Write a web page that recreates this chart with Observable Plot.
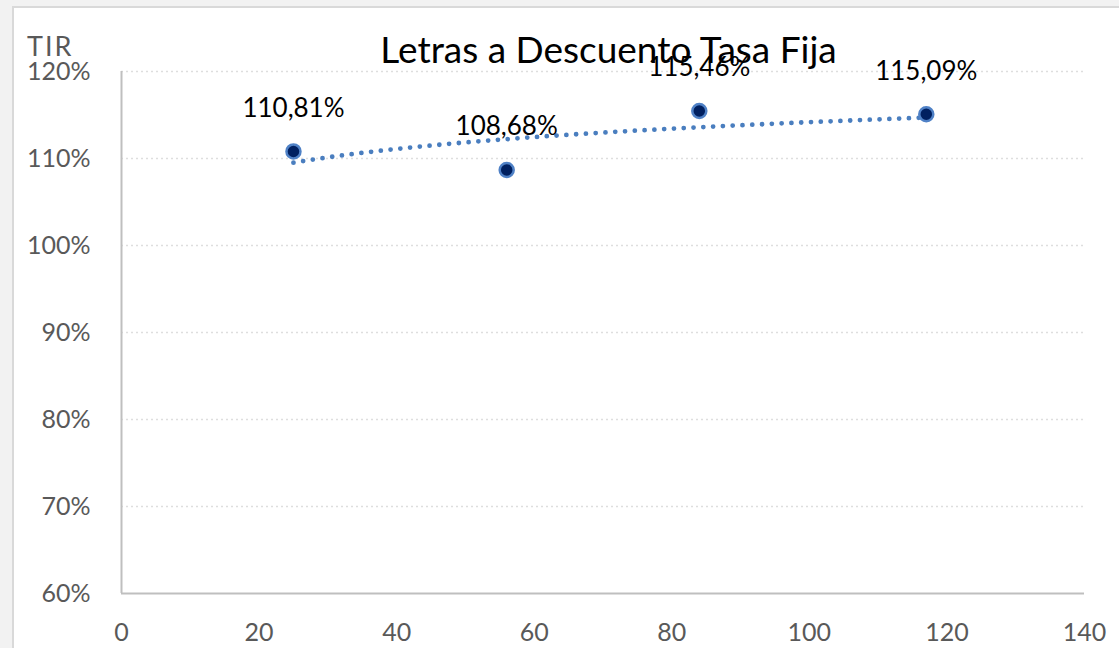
<!DOCTYPE html>
<html><head><meta charset="utf-8">
<script src="https://cdn.jsdelivr.net/npm/d3@7"></script>
<script src="https://cdn.jsdelivr.net/npm/@observablehq/plot@0.6"></script>
<style>
body{margin:0;background:#f2f2f2;width:1119px;height:648px;overflow:hidden;position:relative;font-family:Lato,sans-serif}
#frame{position:absolute;left:12px;top:6px;width:1200px;height:700px;background:#fff;border-left:2px solid #d9d9d9;border-top:2px solid #d9d9d9}
#chart{position:absolute;left:0;top:0}
#title{position:absolute;left:0;width:1217px;text-align:center;top:30px;font-size:37px;line-height:1;color:#000}
#ylab{position:absolute;left:27px;top:32px;font-size:27px;line-height:1;color:#595959;letter-spacing:2px}
</style></head>
<body>
<div id="frame"></div>
<div id="chart"></div>
<div id="title">Letras a Descuento Tasa Fija</div>
<div id="ylab">TIR</div>
<script>
const dias = [25, 56, 84, 117];
const tir = [1.1081, 1.0868, 1.1546, 1.1509];
const yTicks = [0.6, 0.7, 0.8, 0.9, 1.0, 1.1, 1.2];
const xTicks = [0, 20, 40, 60, 80, 100, 120, 140];

const data = dias.map((x, i) => ({x, y: tir[i], label: (tir[i] * 100).toFixed(2).replace(".", ",") + "%"}));
// logarithmic trendline fitted to the data (as in the source chart)
const lx = dias.map(Math.log);
const mx = d3.mean(lx), my = d3.mean(tir);
const b = d3.sum(lx, (v, i) => (v - mx) * (tir[i] - my)) / d3.sum(lx, v => (v - mx) ** 2);
const a = my - b * mx;
const trend = d3.range(dias[0], dias[dias.length - 1] + 0.001, 0.5).map(x => ({x, y: a + b * Math.log(x)}));

const chart = Plot.plot({
  width: 1119, height: 648,
  marginLeft: 121, marginRight: 35, marginTop: 71, marginBottom: 55,
  style: {fontFamily: "Lato, sans-serif", background: "transparent", overflow: "visible"},
  x: {domain: [0, 140]},
  y: {domain: [0.6, 1.2]},
  marks: [
    Plot.ruleY(yTicks.filter(v => v > 0.6), {stroke: "#dedede", strokeDasharray: "2,3", strokeWidth: 1.5}),
    Plot.ruleX([0], {stroke: "#bfbfbf", strokeWidth: 2}),
    Plot.ruleY([0.6], {stroke: "#bfbfbf", strokeWidth: 2}),
    Plot.axisX({ticks: xTicks, tickSize: 0, tickPadding: 30, fontSize: 25, fill: "#595959", label: null}),
    Plot.axisY({ticks: yTicks, tickSize: 0, tickPadding: 31, fontSize: 25, fill: "#595959", label: null, tickFormat: d3.format(".0%")}),
    Plot.line(trend, {x: "x", y: "y", stroke: "#4a7ebf", strokeWidth: 4.8, strokeDasharray: "0,9.8", strokeLinecap: "round"}),
    Plot.dot(data, {x: "x", y: "y", r: 7, fill: "#002060", stroke: "#4f81c6", strokeWidth: 2.5}),
    Plot.text(data, {x: "x", y: "y", text: "label", dy: -43, fontSize: 26, fill: "#000"})
  ]
});
document.getElementById("chart").append(chart);
</script>
</body></html>
